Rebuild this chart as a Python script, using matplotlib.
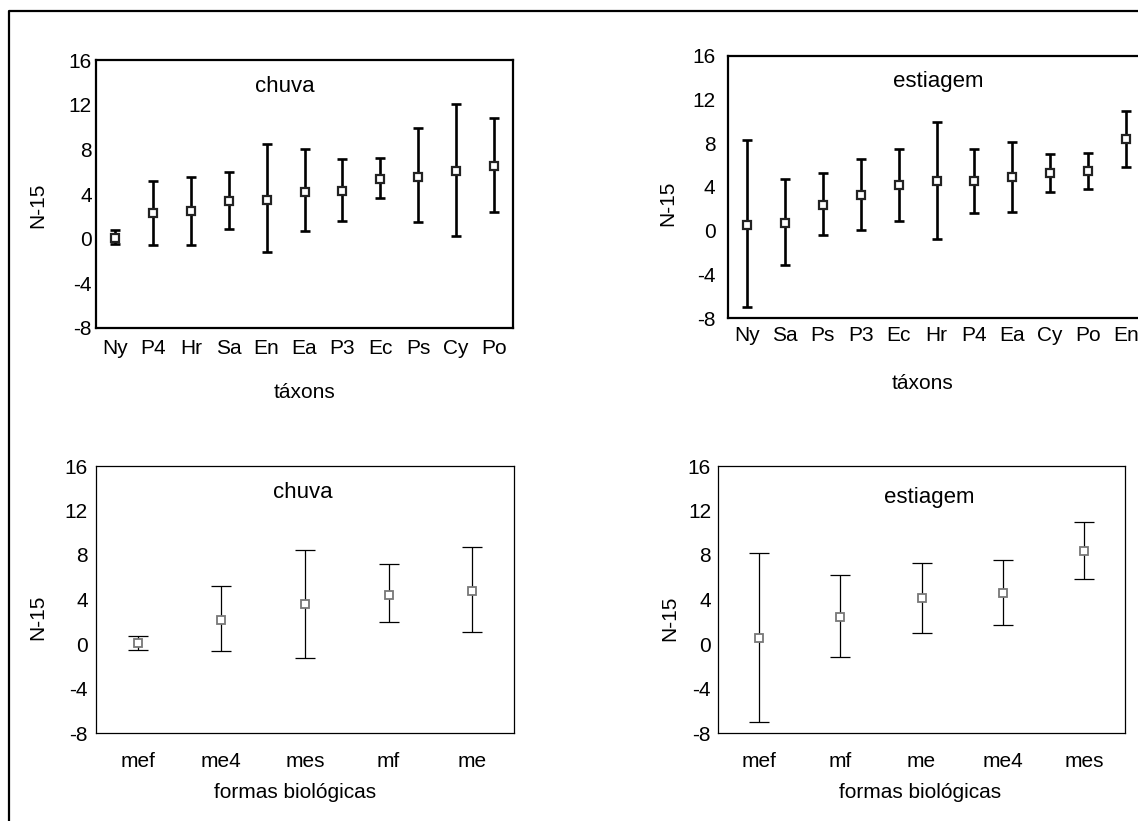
import matplotlib
matplotlib.use("Agg")
import matplotlib.pyplot as plt
from matplotlib.lines import Line2D
import numpy as np

plt.rcParams['font.family'] = ['Liberation Sans', 'DejaVu Sans']

# ---- data ----
taxa_chuva = ["Ny", "P4", "Hr", "Sa", "En", "Ea", "P3", "Ec", "Ps", "Cy", "Po"]
mean_taxa_chuva = [0.1, 2.3, 2.5, 3.4, 3.5, 4.15, 4.3, 5.3, 5.55, 6.05, 6.55]
upper_taxa_chuva = [0.8, 5.2, 5.55, 6.0, 8.5, 8.0, 7.1, 7.25, 9.9, 12.1, 10.85]
lower_taxa_chuva = [-0.5, -0.6, -0.6, 0.9, -1.2, 0.65, 1.6, 3.6, 1.45, 0.2, 2.35]

taxa_estiagem = ["Ny", "Sa", "Ps", "P3", "Ec", "Hr", "P4", "Ea", "Cy", "Po", "En"]
mean_taxa_estiagem = [0.53, 0.71, 2.38, 3.27, 4.18, 4.55, 4.55, 4.94, 5.3, 5.5, 8.42]
upper_taxa_estiagem = [8.26, 4.76, 5.3, 6.59, 7.44, 9.91, 7.5, 8.15, 7.0, 7.1, 10.95]
lower_taxa_estiagem = [-7.0, -3.13, -0.36, 0.07, 0.9, -0.75, 1.65, 1.74, 3.54, 3.8, 5.83]

formas_chuva = ["mef", "me4", "mes", "mf", "me"]
mean_formas_chuva = [0.08, 2.2, 3.58, 4.42, 4.78]
upper_formas_chuva = [0.71, 5.2, 8.46, 7.17, 8.7]
lower_formas_chuva = [-0.55, -0.64, -1.27, 1.97, 1.07]

formas_estiagem = ["mef", "mf", "me", "me4", "mes"]
mean_formas_estiagem = [0.53, 2.39, 4.09, 4.54, 8.34]
upper_formas_estiagem = [8.16, 6.19, 7.26, 7.53, 10.94]
lower_formas_estiagem = [-7.0, -1.18, 0.98, 1.7, 5.83]

yticks = [-8, -4, 0, 4, 8, 12, 16]

W, H = 1138, 821
fig = plt.figure(figsize=(W / 100, H / 100), dpi=100)


def rect(l, t, r, b):
    return [l / W, 1 - b / H, (r - l) / W, (b - t) / H]


def fx(x):
    return x / W


def fy(y):
    return 1 - y / H


def panel(pos, cats, mean, up, lo, title, title_xy, thick, ypad, xpad, ylabel_x):
    ax = fig.add_axes(rect(*pos))
    x = np.arange(len(cats))
    mean = np.array(mean)
    err = np.vstack([mean - np.array(lo), np.array(up) - mean])
    if thick:
        lw, cs, mec, mew, slw = 1.9, 3.4, '#222222', 1.6, 1.6
    else:
        lw, cs, mec, mew, slw = 0.9, 7.0, '#777777', 1.3, 0.9
    ax.errorbar(x, mean, yerr=err, fmt='none', ecolor='black', elinewidth=lw,
                capsize=cs, capthick=lw, zorder=2)
    ax.plot(x, mean, 's', ms=6.4, mfc='white', mec=mec, mew=mew, zorder=3)
    ax.set_xlim(-0.5, len(cats) - 0.5)
    ax.set_ylim(-8, 16)
    ax.set_yticks(yticks)
    ax.set_yticklabels([str(v) for v in yticks])
    ax.set_xticks(x)
    ax.set_xticklabels(cats)
    ax.tick_params(axis='both', length=0, labelsize=15)
    ax.tick_params(axis='y', pad=ypad)
    ax.tick_params(axis='x', pad=xpad)
    for s in ax.spines.values():
        s.set_linewidth(slw)
    fig.text(fx(title_xy[0]), fy(title_xy[1]), title, ha='center', va='center', fontsize=16)
    fig.text(fx(ylabel_x), fy(title_xy[2]), "N-15", rotation=90, ha='center', va='center', fontsize=15)
    return ax


panel((96, 60, 513, 328), taxa_chuva, mean_taxa_chuva, upper_taxa_chuva, lower_taxa_chuva,
      "chuva", (285, 86, 205), True, 3, 8, 38)
panel((728, 56, 1145, 318), taxa_estiagem, mean_taxa_estiagem, upper_taxa_estiagem, lower_taxa_estiagem,
      "estiagem", (938, 82, 203), True, 9, 6, 668)
panel((96, 466, 514, 733), formas_chuva, mean_formas_chuva, upper_formas_chuva, lower_formas_chuva,
      "chuva", (303, 492, 617), False, 6, 14, 38)
panel((718, 466, 1125, 733), formas_estiagem, mean_formas_estiagem, upper_formas_estiagem, lower_formas_estiagem,
      "estiagem", (929, 497, 618), False, 5, 14, 670)

fig.text(fx(305), fy(392), "táxons", ha='center', va='center', fontsize=15)
fig.text(fx(923), fy(383), "táxons", ha='center', va='center', fontsize=15)
fig.text(fx(295), fy(792), "formas biológicas", ha='center', va='center', fontsize=15)
fig.text(fx(920), fy(792), "formas biológicas", ha='center', va='center', fontsize=15)

# outer frame (partially cropped)
fig.add_artist(Line2D([fx(9), fx(9), fx(W + 10)], [fy(H + 10), fy(11), fy(11)],
                      transform=fig.transFigure, color='black', lw=1.6))

fig.savefig("out.png", dpi=100)
